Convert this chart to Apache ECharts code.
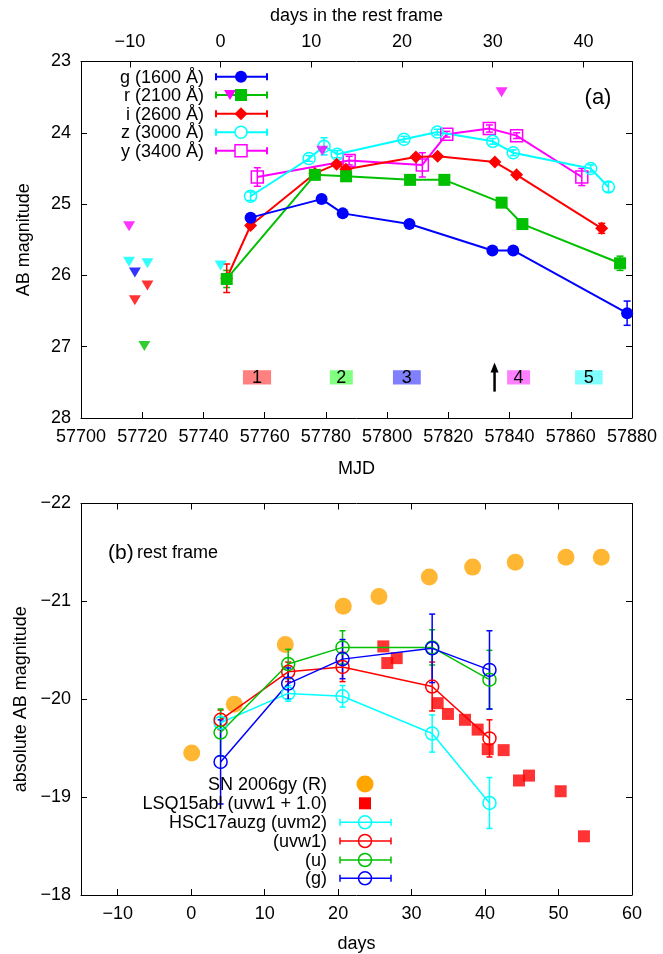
<!DOCTYPE html>
<html><head><meta charset="utf-8">
<script src="https://cdn.jsdelivr.net/npm/echarts@6/dist/echarts.min.js"></script>
<style>html,body{margin:0;padding:0;background:#fff}#c{width:663px;height:954px}</style>
</head><body><div id="c"></div>
<script>
// ---------- data: panel (a) ----------
const restZeroMJD = 57745.6;   // rest-frame day 0
const timeDilation = 2.963;    // 1+z
const restTicks = [-10, 0, 10, 20, 30, 40];

const gMJD = [57755.4, 57778.6, 57785.5, 57807.3, 57834.4, 57841.2, 57878.4];
const gMag = [25.19, 24.93, 25.13, 25.28, 25.65, 25.65, 26.53];
const gErr = [0.03, 0.03, 0.03, 0.03, 0.04, 0.04, 0.17];

const rMJD = [57747.6, 57776.4, 57786.6, 57807.5, 57818.7, 57837.4, 57844.2, 57876.1];
const rMag = [26.05, 24.59, 24.61, 24.66, 24.66, 24.98, 25.28, 25.83];
const rErr = [0.12, 0.03, 0.03, 0.03, 0.03, 0.04, 0.04, 0.10];

const iMJD = [57747.6, 57755.4, 57776.4, 57783.5, 57786.5, 57809.4, 57816.5, 57835.2, 57842.3, 57870.1];
const iMag = [26.04, 25.30, 24.57, 24.44, 24.51, 24.34, 24.33, 24.41, 24.59, 25.34];
const iErr = [0.20, 0.04, 0.03, 0.03, 0.03, 0.03, 0.03, 0.03, 0.03, 0.07];

const zMJD = [57755.4, 57774.5, 57779.4, 57783.7, 57805.5, 57816.4, 57834.5, 57841.2, 57866.5, 57872.3];
const zMag = [24.89, 24.36, 24.19, 24.30, 24.09, 23.99, 24.12, 24.28, 24.50, 24.76];
const zErr = [0.06, 0.04, 0.12, 0.05, 0.04, 0.04, 0.04, 0.04, 0.05, 0.07];

const yMJD = [57757.6, 57787.6, 57811.5, 57819.5, 57833.4, 57842.3, 57863.6];
const yMag = [24.62, 24.39, 24.45, 24.02, 23.94, 24.04, 24.62];
const yErr = [0.13, 0.06, 0.17, 0.04, 0.05, 0.04, 0.12];

// upper limits
const gLimMJD = [57717.6];                    const gLim = [25.96];
const rLimMJD = [57720.7];                    const rLim = [26.99];
const iLimMJD = [57717.6, 57721.7];           const iLim = [26.35, 26.14];
const zLimMJD = [57715.7, 57721.7, 57745.6];  const zLim = [25.81, 25.83, 25.86];
const yLimMJD = [57715.7, 57778.8, 57837.4];  const yLim = [25.31, 24.25, 23.43];

// spectral epochs
const epochLabels = ['1', '2', '3', '4', '5'];
const epochStart = [57752.9, 57781.3, 57801.9, 57839.2, 57861.4];
const epochEnd   = [57762.1, 57788.8, 57811.0, 57846.7, 57870.4];
const epochMagTop = 27.33, epochMagBottom = 27.53;
const arrowMJD = 57835.1, arrowFrom = 27.63, arrowTo = 27.22;

// ---------- data: panel (b) ----------
const gyDay = [0.07, 5.87, 12.81, 20.70, 25.56, 32.41, 38.31, 44.11, 51.01, 55.82];
const gyMag = [-19.45, -19.95, -20.56, -20.95, -21.05, -21.25, -21.35, -21.40, -21.45, -21.45];

const lsqDay = [26.15, 26.69, 27.97, 33.55, 34.95, 37.27, 38.99, 40.36, 42.53, 44.62, 45.98, 50.29, 53.46];
const lsqMag = [-20.54, -20.37, -20.42, -19.96, -19.85, -19.79, -19.69, -19.49, -19.48, -19.17, -19.22, -19.06, -18.60];

const hscDay = [4.0, 13.2, 20.6, 32.8, 40.6];
const uvm2Mag = [-19.76, -20.06, -20.03, -19.65, -18.94];
const uvm2Err = [0.06, 0.08, 0.11, 0.19, 0.26];
const uvw1Mag = [-19.79, -20.28, -20.33, -20.13, -19.60];
const uvw1Err = [0.10, 0.10, 0.15, 0.25, 0.19];
const uMag = [-19.66, -20.36, -20.53, -20.53, -20.20];
const uErr = [0.24, 0.15, 0.17, 0.18, 0.30];
const gAbsMag = [-19.36, -20.16, -20.41, -20.52, -20.30];
const gAbsErr = [0.43, 0.16, 0.20, 0.35, 0.40];

const dayTicks = [-10, 0, 10, 20, 30, 40, 50, 60];

// ---------- styling ----------
const FONT = "'Liberation Sans', Arial, Helvetica, sans-serif";
const FS = 18;
const C = {g:'#0000ff', r:'#00c000', i:'#ff0000', z:'#00ffff', y:'#ff00ff', orange:'#ffa500'};
const epochColors = ['#ff8080', '#80ff80', '#8080ff', '#ff80ff', '#80ffff'];
const minus = v => (v < 0 ? '\u2212' + Math.abs(v) : String(v));
const plain = v => String(v);

const zip = (a, b) => a.map((v, k) => [v, b[k]]);

function errSeries(xs, ys, es, color, xi, yi, capW, lw) {
  return {
    type: 'custom', xAxisIndex: xi, yAxisIndex: yi, silent: true, z: 3,
    encode: {x: 0, y: 1},
    data: xs.map((x, k) => [x, ys[k], es[k]]),
    renderItem: (params, api) => {
      const x = api.value(0), y = api.value(1), e = api.value(2);
      const p1 = api.coord([x, y - e]), p2 = api.coord([x, y + e]);
      const hw = capW / 2, st = {stroke: color, lineWidth: lw};
      return {type: 'group', children: [
        {type: 'line', shape: {x1: p1[0], y1: p1[1], x2: p2[0], y2: p2[1]}, style: st},
        {type: 'line', shape: {x1: p1[0] - hw, y1: p1[1], x2: p1[0] + hw, y2: p1[1]}, style: st},
        {type: 'line', shape: {x1: p2[0] - hw, y1: p2[1], x2: p2[0] + hw, y2: p2[1]}, style: st}
      ]};
    }
  };
}

function lineSeries(xs, ys, color, symbol, size, open, xi, yi, lw) {
  return {
    type: 'line', xAxisIndex: xi, yAxisIndex: yi, data: zip(xs, ys),
    symbol: symbol, symbolSize: size, showSymbol: true, z: 4,
    lineStyle: {color: color, width: lw},
    itemStyle: open ? {color: 'rgba(0,0,0,0)', borderColor: color, borderWidth: 1.5}
                    : {color: color, borderWidth: 0},
    emphasis: {disabled: true}, animation: false
  };
}

function limSeries(xs, ys, color) {
  return {
    type: 'scatter', xAxisIndex: 0, yAxisIndex: 0, data: zip(xs, ys),
    symbol: 'triangle', symbolRotate: 180, symbolSize: [12, 10], z: 4,
    itemStyle: {color: color}, emphasis: {disabled: true}
  };
}

const axisBase = {
  axisLine: {show: true, onZero: false, lineStyle: {color: '#000', width: 1}},
  axisTick: {show: true, inside: true, length: 6, lineStyle: {color: '#000'}},
  splitLine: {show: false},
  axisLabel: {color: '#000', fontSize: FS, fontFamily: FONT, margin: 10},
  nameTextStyle: {color: '#000', fontSize: FS, fontFamily: FONT}
};
function ax(o) { return Object.assign({}, JSON.parse(JSON.stringify(axisBase)), o, {
  axisLabel: Object.assign({}, axisBase.axisLabel, o.axisLabel || {}),
  axisTick: Object.assign({}, axisBase.axisTick, o.axisTick || {}),
  nameTextStyle: Object.assign({}, axisBase.nameTextStyle, o.nameTextStyle || {})
}); }

const option = {
  animation: false,
  backgroundColor: '#fff',
  grid: [
    {left: 81, top: 61.5, width: 551, height: 356.5},
    {left: 81, top: 503.5, width: 551, height: 391.5}
  ],
  xAxis: [
    ax({gridIndex: 0, type: 'value', position: 'bottom', min: 57700, max: 57880, interval: 20,
        name: 'MJD', nameLocation: 'middle', nameGap: 42,
        axisLabel: {formatter: plain}}),
    ax({gridIndex: 0, type: 'value', position: 'top',
        min: (57700 - restZeroMJD) / timeDilation, max: (57880 - restZeroMJD) / timeDilation,
        name: 'days in the rest frame', nameLocation: 'middle', nameGap: 36,
        axisTick: {customValues: restTicks},
        axisLabel: {customValues: restTicks, formatter: minus}}),
    ax({gridIndex: 1, type: 'value', position: 'bottom', min: -15, max: 60,
        name: 'days', nameLocation: 'middle', nameGap: 40,
        axisTick: {customValues: dayTicks},
        axisLabel: {customValues: dayTicks, formatter: minus}}),
    ax({gridIndex: 1, type: 'value', position: 'top', min: -15, max: 60,
        axisTick: {customValues: dayTicks},
        axisLabel: {show: false}})
  ],
  yAxis: [
    ax({gridIndex: 0, type: 'value', inverse: true, min: 23, max: 28, interval: 1, position: 'left',
        name: 'AB magnitude', nameLocation: 'middle', nameGap: 48}),
    ax({gridIndex: 0, type: 'value', inverse: true, min: 23, max: 28, interval: 1, position: 'right',
        axisLabel: {show: false}}),
    ax({gridIndex: 1, type: 'value', inverse: true, min: -22, max: -18, interval: 1, position: 'left',
        name: 'absolute AB magnitude', nameLocation: 'middle', nameGap: 50,
        axisLabel: {formatter: minus}}),
    ax({gridIndex: 1, type: 'value', inverse: true, min: -22, max: -18, interval: 1, position: 'right',
        axisLabel: {show: false}})
  ],
  series: [
    // panel (a)
    errSeries(gMJD, gMag, gErr, C.g, 0, 0, 7, 1.5),
    errSeries(rMJD, rMag, rErr, C.r, 0, 0, 7, 1.5),
    errSeries(iMJD, iMag, iErr, C.i, 0, 0, 7, 1.5),
    errSeries(zMJD, zMag, zErr, C.z, 0, 0, 7, 1.5),
    errSeries(yMJD, yMag, yErr, C.y, 0, 0, 7, 1.5),
    lineSeries(yMJD, yMag, C.y, 'rect', 12, true, 0, 0, 2),
    lineSeries(zMJD, zMag, C.z, 'circle', 12, true, 0, 0, 2),
    lineSeries(iMJD, iMag, C.i, 'diamond', 13, false, 0, 0, 2),
    lineSeries(rMJD, rMag, C.r, 'rect', 12, false, 0, 0, 2),
    lineSeries(gMJD, gMag, C.g, 'circle', 12, false, 0, 0, 2),
    limSeries(gLimMJD, gLim, C.g),
    limSeries(rLimMJD, rLim, C.r),
    limSeries(iLimMJD, iLim, C.i),
    limSeries(zLimMJD, zLim, C.z),
    limSeries(yLimMJD, yLim, C.y),
    {
      type: 'custom', xAxisIndex: 0, yAxisIndex: 0, silent: true, z: 2, encode: {x: 0, y: 1},
      data: epochLabels.map((l, k) => [epochStart[k], epochMagTop, epochEnd[k], epochMagBottom, l]),
      renderItem: (params, api) => {
        const p1 = api.coord([api.value(0), api.value(1)]);
        const p2 = api.coord([api.value(2), api.value(3)]);
        return {type: 'group', children: [
          {type: 'rect', shape: {x: p1[0], y: p1[1], width: p2[0] - p1[0], height: p2[1] - p1[1]},
           style: {fill: epochColors[params.dataIndex]}},
          {type: 'text', style: {text: epochLabels[params.dataIndex], x: (p1[0] + p2[0]) / 2, y: (p1[1] + p2[1]) / 2 + 1,
            align: 'center', verticalAlign: 'middle', fill: '#000', font: `${FS}px ${FONT}`}}
        ]};
      }
    },
    {
      type: 'custom', xAxisIndex: 0, yAxisIndex: 0, silent: true, z: 2, encode: {x: 0, y: 1},
      data: [[arrowMJD, arrowFrom, arrowTo]],
      renderItem: (params, api) => {
        const a = api.coord([api.value(0), api.value(1)]);
        const b = api.coord([api.value(0), api.value(2)]);
        return {type: 'group', children: [
          {type: 'line', shape: {x1: a[0], y1: a[1], x2: b[0], y2: b[1] + 8}, style: {stroke: '#000', lineWidth: 2.5}},
          {type: 'polygon', shape: {points: [[b[0], b[1]], [b[0] - 4, b[1] + 10], [b[0] + 4, b[1] + 10]]}, style: {fill: '#000'}}
        ]};
      }
    },
    // panel (b)
    {type: 'scatter', xAxisIndex: 2, yAxisIndex: 2, data: zip(gyDay, gyMag), symbol: 'circle', symbolSize: 17,
     itemStyle: {color: C.orange}, z: 2},
    {type: 'scatter', xAxisIndex: 2, yAxisIndex: 2, data: zip(lsqDay, lsqMag), symbol: 'rect', symbolSize: 12,
     itemStyle: {color: '#ff0000'}, z: 2},
    errSeries(hscDay, uvm2Mag, uvm2Err, C.z, 2, 2, 6, 1.5),
    errSeries(hscDay, uvw1Mag, uvw1Err, C.i, 2, 2, 6, 1.5),
    errSeries(hscDay, uMag, uErr, C.r, 2, 2, 6, 1.5),
    errSeries(hscDay, gAbsMag, gAbsErr, C.g, 2, 2, 6, 1.5),
    lineSeries(hscDay, uvm2Mag, C.z, 'circle', 13, true, 2, 2, 1.5),
    lineSeries(hscDay, uvw1Mag, C.i, 'circle', 13, true, 2, 2, 1.5),
    lineSeries(hscDay, uMag, C.r, 'circle', 13, true, 2, 2, 1.5),
    lineSeries(hscDay, gAbsMag, C.g, 'circle', 13, true, 2, 2, 1.5)
  ],
  graphic: []
};

// ---------- legends & labels (layout only) ----------
const G = option.graphic;
function txt(s, x, y, align, size) {
  G.push({type: 'text', x: x, y: y, style: {text: s, align: align, verticalAlign: 'middle', fill: '#000',
    font: `${size || FS}px ${FONT}`}, z: 10});
}
function keyLine(y, x1, x2, color, lw) {
  const st = {stroke: color, lineWidth: lw};
  G.push({type: 'line', shape: {x1: x1, y1: y, x2: x2, y2: y}, style: st, z: 10});
  G.push({type: 'line', shape: {x1: x1, y1: y - 3.5, x2: x1, y2: y + 3.5}, style: st, z: 10});
  G.push({type: 'line', shape: {x1: x2, y1: y - 3.5, x2: x2, y2: y + 3.5}, style: st, z: 10});
}
// panel (a) key
const keyA = [['g (1600 \u00c5)', C.g], ['r (2100 \u00c5)', C.r], ['i (2600 \u00c5)', C.i], ['z (3000 \u00c5)', C.z], ['y (3400 \u00c5)', C.y]];
const keyAy = [76.7, 95, 113.7, 132.3, 150.8];
keyA.forEach(([s, c], k) => {
  const y = keyAy[k];
  txt(s, 204, y + 1, 'right');
  keyLine(y, 216, 267, c, 2);
  const mx = 241;
  if (k === 0) G.push({type: 'circle', shape: {cx: mx, cy: y, r: 6}, style: {fill: c}, z: 11});
  if (k === 1) {
    G.push({type: 'polygon', shape: {points: [[224, y - 5], [236, y - 5], [230, y + 5]]}, style: {fill: C.y}, z: 11});
    G.push({type: 'rect', shape: {x: mx - 6, y: y - 6, width: 12, height: 12}, style: {fill: c}, z: 11});
  }
  if (k === 2) G.push({type: 'polygon', shape: {points: [[mx, y - 6.5], [mx + 6.5, y], [mx, y + 6.5], [mx - 6.5, y]]}, style: {fill: c}, z: 11});
  if (k === 3) G.push({type: 'circle', shape: {cx: mx, cy: y, r: 6}, style: {fill: '#fff', stroke: c, lineWidth: 1.5}, z: 11});
  if (k === 4) G.push({type: 'rect', shape: {x: mx - 6, y: y - 6, width: 12, height: 12}, style: {fill: '#fff', stroke: c, lineWidth: 1.5}, z: 11});
});
txt('(a)', 598, 98, 'center', 22);

// panel (b) key
const keyB = ['SN 2006gy (R)', 'LSQ15abl (uvw1 + 1.0)', 'HSC17auzg (uvm2)', '(uvw1)', '(u)', '(g)'];
const keyBc = [C.orange, '#ff0000', C.z, C.i, C.r, C.g];
const keyBy = [784, 803.3, 822.3, 841, 860, 878.3];
keyB.forEach((s, k) => {
  const y = keyBy[k], c = keyBc[k], mx = 365;
  txt(s, 327, y + 1, 'right');
  if (k === 0) G.push({type: 'circle', shape: {cx: mx, cy: y, r: 8.5}, style: {fill: c}, z: 11});
  else if (k === 1) G.push({type: 'rect', shape: {x: mx - 6, y: y - 6, width: 12, height: 12}, style: {fill: c}, z: 11});
  else {
    keyLine(y, 340, 391, c, 1.5);
    G.push({type: 'circle', shape: {cx: mx, cy: y, r: 6.5}, style: {fill: 'rgba(0,0,0,0)', stroke: c, lineWidth: 1.5}, z: 11});
  }
});
txt('(b)', 108, 553, 'left', 21);
txt('rest frame', 137, 553, 'left', FS);

const chart = echarts.init(document.getElementById('c'), null, {renderer: 'canvas'});
chart.setOption(option);
</script>
</body></html>
